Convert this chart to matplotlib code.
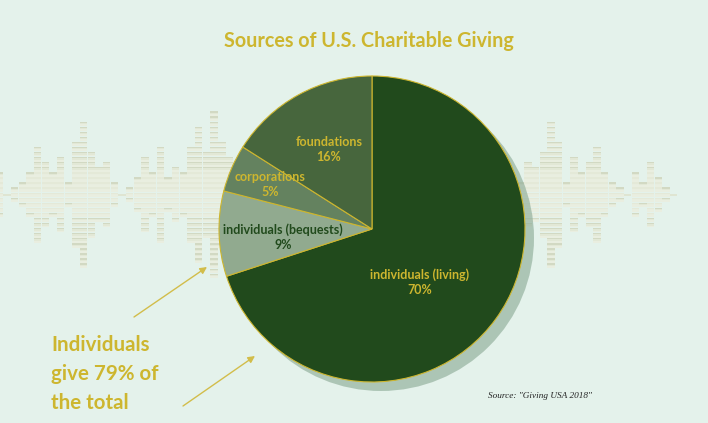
import matplotlib
matplotlib.use("Agg")
import matplotlib.pyplot as plt
from matplotlib.patches import Circle, Rectangle

# pie data
labels = ["individuals (living)", "individuals (bequests)", "corporations", "foundations"]
shares = [70, 9, 5, 16]
colors = ["#214a1c", "#91aa8f", "#64825f", "#47663d"]

# sound wave decoration, cells above/below the middle row per column
wave_left = [4, 0, 1, 2, 4, 9, 6, 4, 7, 2, 10, 14, 8, 5, 6, 2, 0, 1, 3, 7, 4, 9, 3, 5, 4, 9, 13, 8, 16, 10, 7]
wave_right = [2, 6, 5, 8, 14, 10, 2, 7, 4, 6, 9, 4, 2, 1, 0, 4, 2, 6, 3, 1, 0]

BG = "#e4f2eb"
GOLD = "#cdb62f"
DARK = "#214a1c"
FONT = ["Lato", "DejaVu Sans"]
H = 423

fig = plt.figure(figsize=(7.08, 4.23), dpi=100, facecolor=BG)
ax = fig.add_axes([0, 0, 1, 1])
ax.set_xlim(0, 708)
ax.set_ylim(0, H)
ax.axis("off")


def draw_wave(levels, x0):
    pitch = 7.67
    for i, lev in enumerate(levels):
        x = x0 + i * pitch
        if lev == 0:
            ax.add_patch(Rectangle((x, H - 196), pitch - 0.2, 2, fc="#dfe5d2", ec="none", zorder=1))
            continue
        for r in range(-lev, lev + 1):
            top = 195 + r * 5.07 - 2.5
            # cells get paler towards the middle of the wave
            tip = abs(r) >= 5 or abs(r) == lev
            band = "#d2d9c3" if tip else "#e4e9d8"
            mid = "#e2e8d6" if tip else "#e8eddf"
            ax.add_patch(Rectangle((x, H - top - 4.5), pitch - 0.3, 4.5, fc="#e9eee0", ec="none", zorder=1))
            ax.add_patch(Rectangle((x, H - top - 2.6), pitch - 0.3, 1.3, fc=mid, ec="none", zorder=1))
            ax.add_patch(Rectangle((x, H - top - 1.3), pitch - 0.3, 1.3, fc=band, ec="none", zorder=1))


draw_wave(wave_left, -4.3)
draw_wave(wave_right, 516.5)

# shadow
ax.add_patch(Circle((381, H - 238), 153, fc="#8fad99", ec="none", alpha=0.65, zorder=2))

wedges, _ = ax.pie(shares, colors=colors, startangle=90, counterclock=False,
                   center=(372, H - 229), radius=153, frame=True,
                   wedgeprops=dict(edgecolor=GOLD, linewidth=0.8))
for w in wedges:
    w.set_zorder(3)
ax.set_xlim(0, 708)
ax.set_ylim(0, H)
ax.set_aspect("auto")
ax.axis("off")

label_pos = [(420, 282), (283, 237), (270, 184), (329, 149)]
label_col = [GOLD, DARK, GOLD, GOLD]
for lab, val, pos, c in zip(labels, shares, label_pos, label_col):
    ax.text(pos[0], H - pos[1], f"{lab}\n{val}%", color=c, fontsize=9, fontweight="bold",
            family=FONT, ha="center", va="center", linespacing=1.3, zorder=5)

ax.text(369, H - 41, "Sources of U.S. Charitable Giving", color=GOLD, fontsize=14.2,
        fontweight="bold", family=FONT, ha="center", va="center")
ax.text(51, H - 374, "Individuals\ngive 79% of\nthe total", color=GOLD, fontsize=14.8,
        fontweight="bold", family=FONT, ha="left", va="center", linespacing=1.55)
ax.text(488, H - 396, "Source: \"Giving USA 2018\"", color="#222222", fontsize=6.7,
        family="Liberation Serif", style="italic", ha="left", va="center")

# arrows
for start, end in [((134, 317), (207, 267)), ((183, 406), (255, 356))]:
    ax.annotate("", xy=(end[0], H - end[1]), xytext=(start[0], H - start[1]),
                arrowprops=dict(arrowstyle="-|>", color="#d2bd4a", lw=1, mutation_scale=10,
                                shrinkA=0, shrinkB=0))

fig.savefig("out.png", dpi=100, facecolor=BG)
